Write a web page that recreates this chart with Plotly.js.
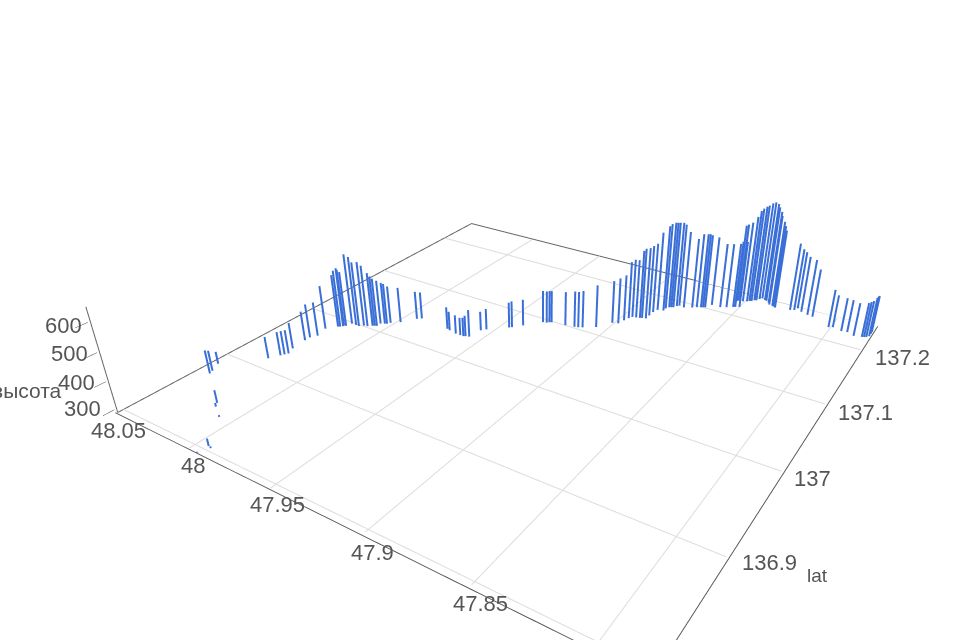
<!DOCTYPE html>
<html><head><meta charset="utf-8"><script src="https://cdn.plot.ly/plotly-3.0.1.min.js"></script>
<style>html,body{margin:0;background:#fff;overflow:hidden;width:960px;height:640px}#c{width:1080px;height:720px}</style></head><body><div id="c"></div>
<script>
const lon=[47.994,47.994,47.992,48.008,48.016,48.018,48.042,48.043,48.046,48.029,48.026,48.025,48.024,48.026,48.027,48.027,48.025,
48.027,48.023,48.022,48.021,48.021,48.020,48.019,48.016,48.014,48.012,48.010,48.008,48.007,48.006,48.006,48.004,48.003,
48.002,47.998,47.993,47.991,47.972,47.970,47.965,47.962,47.960,47.959,47.957,47.956,47.954,47.945,47.944,47.940,47.933,
47.931,47.930,47.929,47.921,47.916,47.914,47.912,47.906,47.901,47.898,47.897,47.896,47.895,47.893,47.891,47.890,47.888,
47.888,47.888,47.887,47.884,47.884,47.883,47.882,47.881,47.880,47.879,47.876,47.872,47.870,47.868,47.867,47.866,47.864,
47.859,47.856,47.853,47.852,47.850,47.854,47.853,47.851,47.849,47.848,47.847,47.846,47.845,47.844,47.843,47.841,47.840,
47.838,47.837,47.835,47.834,47.833,47.825,47.823,47.822,47.819,47.815,47.812,47.801,47.799,47.794,47.791,47.787,47.783,
47.782,47.781,47.780,47.780,47.780];
const lat=[136.794,136.804,136.803,136.833,136.841,136.845,136.871,136.875,136.885,136.914,136.923,136.926,136.929,136.937,136.953,136.959,136.965,
136.978,136.987,136.988,136.990,136.991,136.992,136.998,136.998,136.998,137.001,137.002,137.005,137.006,137.007,137.012,137.014,137.015,
137.018,137.024,137.037,137.040,137.037,137.036,137.034,137.034,137.034,137.035,137.036,137.051,137.055,137.069,137.071,137.079,137.094,
137.095,137.097,137.098,137.100,137.102,137.103,137.105,137.112,137.127,137.129,137.137,137.143,137.147,137.148,137.149,137.150,137.151,
137.158,137.166,137.172,137.174,137.179,137.183,137.184,137.185,137.189,137.191,137.190,137.194,137.197,137.199,137.200,137.201,137.209,
137.209,137.212,137.216,137.217,137.219,137.230,137.231,137.232,137.234,137.236,137.237,137.240,137.241,137.245,137.248,137.246,137.245,
137.242,137.239,137.238,137.237,137.236,137.239,137.241,137.246,137.241,137.238,137.237,137.225,137.227,137.224,137.225,137.221,137.223,
137.224,137.225,137.228,137.233,137.237];
const altTop=[297,317,297,297,304,337,377,366,336,372,380,380,380,389,402,419,420,
458,492,509,517,509,501,560,555,538,538,526,497,484,476,460,452,448,
435,427,399,395,376,364,363,359,363,371,395,364,372,389,393,393,415,
415,415,415,422,430,430,434,455,456,468,469,512,517,517,554,562,566,
564,561,596,622,623,624,624,624,620,612,590,564,581,581,581,577,561,
543,543,543,551,551,592,596,605,627,648,657,662,666,671,672,671,661,
651,641,623,610,596,554,533,516,510,509,479,438,417,420,416,419,423,
427,431,439,436,432];
const xGrid=[48,47.95,47.9,47.85,47.8];
const yGrid=[136.8,136.9,137,137.1,137.2];
const zTicks=[600,500,400,300];
const xTickText=['48.05','48','47.95','47.9','47.85'];
const yTickText=['137.2','137.1','137','136.9'];
const xMax=48.05,xMin=47.78,yMin=136.795,yMax=137.25,zMin=290,zAxisTop=650,zMax=700;
const W=1080,H=720;
const traces=[];
const hair={color:'#dcdcdc',width:2},edge={color:'#666',width:2};
xGrid.forEach(v=>traces.push({type:'scatter3d',mode:'lines',x:[v,v],y:[yMin,yMax],z:[zMin,zMin],line:hair,hoverinfo:'skip'}));
yGrid.forEach(v=>traces.push({type:'scatter3d',mode:'lines',x:[xMax,xMin],y:[v,v],z:[zMin,zMin],line:hair,hoverinfo:'skip'}));
traces.push({type:'scatter3d',mode:'lines',x:[xMax,xMax,xMin],y:[yMin,yMax,yMax],z:[zMin,zMin,zMin],line:edge,hoverinfo:'skip'});
traces.push({type:'scatter3d',mode:'lines',x:[xMax,xMax],y:[yMin,yMin],z:[zMin,zAxisTop],line:edge,hoverinfo:'skip'});
const px=[],py=[],pz=[];
lon.forEach((l,i)=>{px.push(l,l,null);py.push(lat[i],lat[i],null);pz.push(zMin+0.5,altTop[i],null)});
traces.push({type:'scatter3d',mode:'lines',x:px,y:py,z:pz,connectgaps:false,line:{color:'#3a6fd8',width:4}});
const zLabelX=[63,69,76,82],zLabelY=[326,353,382,408];
const xLabelX=[118,193,277,372,480],xLabelY=[430,465,505,552,603];
const yLabelX=[902,865,812,770],yLabelY=[357,412,478,562];
const note=(t,x,y,s)=>({text:t,x:x/W,y:1-y/H,xref:'paper',yref:'paper',xanchor:'center',yanchor:'middle',showarrow:false,font:{size:s,color:'#555'}});
const annotations=[];
zTicks.forEach((t,i)=>annotations.push(note(String(t),zLabelX[i],zLabelY[i],22)));
xTickText.forEach((t,i)=>annotations.push(note(t,xLabelX[i],xLabelY[i],22)));
yTickText.forEach((t,i)=>annotations.push(note(t,yLabelX[i],yLabelY[i],22)));
annotations.push(note('высота',27,390,21));
annotations.push(note('lat',817,575,19));
Plotly.newPlot('c',traces,{
width:W,height:H,margin:{l:0,r:0,t:0,b:0},showlegend:false,paper_bgcolor:'#fff',annotations,
font:{family:'Liberation Sans',size:18,color:'#555'},
scene:{aspectmode:'manual',aspectratio:{x:1,y:1,z:0.228},
camera:{eye:{x:0.753,y:-1.131,z:0.712},center:{x:0.04,y:-0.02,z:-0.078}},
xaxis:{range:[xMax+0.001,xMin-0.001],title:{text:''},dtick:0.05,tick0:48,showticklabels:false,showgrid:false,zeroline:false,showline:true,linecolor:'#555',linewidth:2,ticks:'',showbackground:false},
yaxis:{range:[yMin-0.001,yMax+0.001],title:{text:''},dtick:0.1,tick0:136.8,showticklabels:false,showgrid:false,zeroline:false,showline:true,linecolor:'#555',linewidth:2,ticks:''},
zaxis:{range:[zMin-1,zMax],title:{text:''},tickvals:zTicks,showticklabels:false,showgrid:false,zeroline:false,showline:false,ticks:'outside',ticklen:3}}
},{displayModeBar:false});
</script></body></html>
